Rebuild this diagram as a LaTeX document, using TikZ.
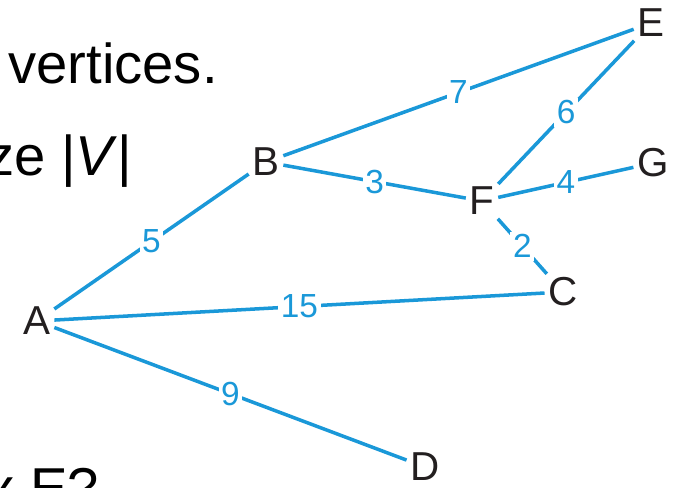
\documentclass[tikz,border=0pt]{standalone}
\usepackage{fontspec}
\setmainfont{Liberation Sans}
\usepackage{tikz}
\usetikzlibrary{positioning}
\definecolor{ink}{HTML}{231F20}
\definecolor{azul}{HTML}{1A98D8}
\tikzset{
  vertice/.style={text=ink,font=\fontsize{23}{27}\selectfont,inner sep=2pt},
  arista/.style={draw=azul,line width=2pt},
  peso/.style={fill=white,text=azul,font=\fontsize{19}{22}\selectfont,inner sep=1.5pt},
  texto/.style={text=black,font=\fontsize{32}{38}\selectfont,inner sep=0pt},
}
\begin{document}
\begin{tikzpicture}[x=0.02cm,y=-0.02cm]
  \useasboundingbox (0,0) rectangle (679,487);
  % text cut off at the left
  \node[texto,anchor=base west] (t1) at (8,83) {vertices.};
  \node[texto,anchor=base west] (t2) at (-14,175) {ze |\textit{V}|};
  \node[texto,anchor=base west] (t3) at (-14,507) {x E?};
  % vertices
  \node[vertice] (A) at (37,321) {A};
  \node[vertice] (B) at (266,162) {B};
  \node[vertice] (C) at (563,292) {C};
  \node[vertice] (D) at (425,467) {D};
  \node[vertice] (E) at (651,23) {E};
  \node[vertice] (F) at (482,201) {F};
  \node[vertice] (G) at (653,163) {G};
  % weighted edges
  \foreach \a/\b/\w in {A/B/5,B/E/7,B/F/3,F/E/6,F/G/4,F/C/2,A/C/15,A/D/9}
    \draw[arista] (\a) -- node[peso] {\w} (\b);
\end{tikzpicture}
\end{document}
